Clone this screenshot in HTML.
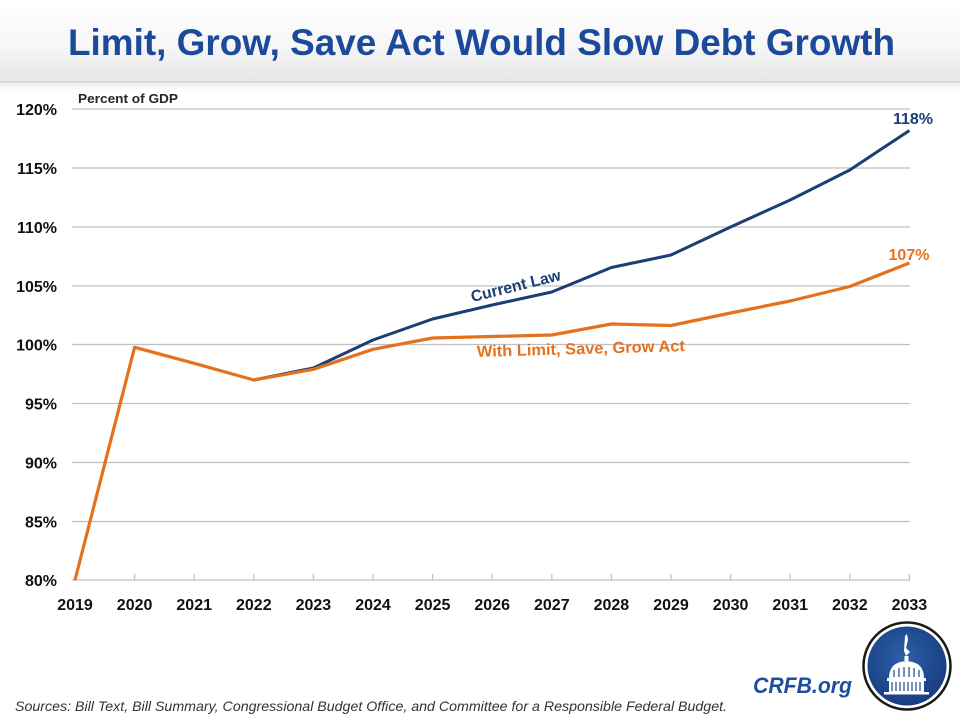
<!DOCTYPE html>
<html><head><meta charset="utf-8"><style>
html,body{margin:0;padding:0;background:#fff;}
svg{display:block;}
text{font-family:"Liberation Sans",Arial,sans-serif;}
</style></head><body>
<svg width="960" height="720" viewBox="0 0 960 720" xmlns="http://www.w3.org/2000/svg">
<defs>
<linearGradient id="hdr" x1="0" y1="0" x2="0" y2="1">
<stop offset="0" stop-color="#ffffff"/>
<stop offset="0.55" stop-color="#f7f7f7"/>
<stop offset="1" stop-color="#e7e7e7"/>
</linearGradient>
<linearGradient id="shd" x1="0" y1="0" x2="0" y2="1">
<stop offset="0" stop-color="#ececec"/>
<stop offset="1" stop-color="#ffffff"/>
</linearGradient>
<radialGradient id="disk" cx="0.45" cy="0.4" r="0.7">
<stop offset="0" stop-color="#2f5ea8"/>
<stop offset="1" stop-color="#143a7a"/>
</radialGradient>
</defs>
<rect x="0" y="0" width="960" height="81" fill="url(#hdr)"/>
<rect x="0" y="81" width="960" height="1.5" fill="#d2d2d2"/>
<rect x="0" y="82.5" width="960" height="8" fill="url(#shd)"/>
<text x="481.5" y="55" text-anchor="middle" font-size="37" font-weight="bold" fill="#1c4a9a" textLength="827" lengthAdjust="spacingAndGlyphs">Limit, Grow, Save Act Would Slow Debt Growth</text>

<text x="78" y="103" font-size="12.5" font-weight="bold" fill="#262626" textLength="100" lengthAdjust="spacingAndGlyphs">Percent of GDP</text>

<g stroke="#c0c0c0" stroke-width="1.2">
<line x1="72" y1="109" x2="910" y2="109"/>
<line x1="72" y1="168" x2="910" y2="168"/>
<line x1="72" y1="227" x2="910" y2="227"/>
<line x1="72" y1="286" x2="910" y2="286"/>
<line x1="72" y1="344.5" x2="910" y2="344.5"/>
<line x1="72" y1="403.5" x2="910" y2="403.5"/>
<line x1="72" y1="462.5" x2="910" y2="462.5"/>
<line x1="72" y1="521.5" x2="910" y2="521.5"/>
<line x1="72" y1="580" x2="910" y2="580"/>
<line x1="134.6" y1="574" x2="134.6" y2="580"/>
<line x1="194.2" y1="574" x2="194.2" y2="580"/>
<line x1="253.8" y1="574" x2="253.8" y2="580"/>
<line x1="313.4" y1="574" x2="313.4" y2="580"/>
<line x1="373" y1="574" x2="373" y2="580"/>
<line x1="432.6" y1="574" x2="432.6" y2="580"/>
<line x1="492.2" y1="574" x2="492.2" y2="580"/>
<line x1="551.8" y1="574" x2="551.8" y2="580"/>
<line x1="611.4" y1="574" x2="611.4" y2="580"/>
<line x1="671" y1="574" x2="671" y2="580"/>
<line x1="730.6" y1="574" x2="730.6" y2="580"/>
<line x1="790.2" y1="574" x2="790.2" y2="580"/>
<line x1="849.8" y1="574" x2="849.8" y2="580"/>
<line x1="909.4" y1="574" x2="909.4" y2="580"/>
</g>

<g font-size="16" font-weight="bold" fill="#111" text-anchor="end">
<text x="57" y="115">120%</text>
<text x="57" y="174">115%</text>
<text x="57" y="233">110%</text>
<text x="57" y="292">105%</text>
<text x="57" y="350.5">100%</text>
<text x="57" y="409.5">95%</text>
<text x="57" y="468.5">90%</text>
<text x="57" y="527.5">85%</text>
<text x="57" y="586">80%</text>
</g>
<g font-size="16" font-weight="bold" fill="#111" text-anchor="middle">
<text x="75" y="610">2019</text>
<text x="134.6" y="610">2020</text>
<text x="194.2" y="610">2021</text>
<text x="253.8" y="610">2022</text>
<text x="313.4" y="610">2023</text>
<text x="373" y="610">2024</text>
<text x="432.6" y="610">2025</text>
<text x="492.2" y="610">2026</text>
<text x="551.8" y="610">2027</text>
<text x="611.4" y="610">2028</text>
<text x="671" y="610">2029</text>
<text x="730.6" y="610">2030</text>
<text x="790.2" y="610">2031</text>
<text x="849.8" y="610">2032</text>
<text x="909.4" y="610">2033</text>
</g>

<polyline fill="none" stroke="#1b3e74" stroke-width="3" stroke-linejoin="round" points="253.8,380 313.4,368 373,340 432.6,319 492.2,305 551.8,292 611.4,267.5 671,255 730.6,227 790.2,200 849.8,170 909.4,130.5"/>
<polyline fill="none" stroke="#e5711e" stroke-width="3.2" stroke-linejoin="round" points="75,580 134.6,347.3 194.2,363.3 253.8,380 313.4,369.3 373,349.3 432.6,338 492.2,336.5 551.8,335 611.4,324 671,325.5 730.6,313 790.2,301 849.8,286.5 909.4,263"/>

<text x="913" y="124" text-anchor="middle" font-size="16" font-weight="bold" fill="#1b3e74">118%</text>
<text x="909" y="260" text-anchor="middle" font-size="16" font-weight="bold" fill="#e5711e">107%</text>

<text transform="translate(517,291) rotate(-14)" text-anchor="middle" font-size="16" font-weight="bold" fill="#1b3e74" textLength="92" lengthAdjust="spacingAndGlyphs">Current Law</text>
<text transform="translate(581,354) rotate(-1.6)" text-anchor="middle" font-size="16" font-weight="bold" fill="#e5711e" textLength="208" lengthAdjust="spacingAndGlyphs">With Limit, Save, Grow Act</text>

<text x="15" y="711" font-size="14" font-style="italic" fill="#333" textLength="712" lengthAdjust="spacingAndGlyphs">Sources: Bill Text, Bill Summary, Congressional  Budget Office, and Committee for a Responsible Federal Budget.</text>
<text x="753" y="693" font-size="22" font-weight="bold" font-style="italic" fill="#1f4e9e" textLength="99" lengthAdjust="spacingAndGlyphs">CRFB.org</text>

<g>
<circle cx="907" cy="666" r="43.5" fill="#fff" stroke="#1a1a1a" stroke-width="2.5"/>
<circle cx="907" cy="666" r="39.5" fill="url(#disk)"/>
<path d="M905 636 L907 634 L908 640 L906 648 L910 652 L906 656 L904 651 Z" fill="#fff"/>
<rect x="904.5" y="656" width="4" height="5" fill="#fff"/>
<path d="M889 678 Q889 662 906.5 661 Q924 662 924 678 Z" fill="#fff"/>
<rect x="887" y="678" width="39" height="3" fill="#fff"/>
<rect x="889" y="681" width="35" height="11" fill="#fff"/>
<g stroke="#1d4588" stroke-width="1.2">
<line x1="892" y1="682" x2="892" y2="691"/>
<line x1="896" y1="682" x2="896" y2="691"/>
<line x1="900" y1="682" x2="900" y2="691"/>
<line x1="904" y1="682" x2="904" y2="691"/>
<line x1="908" y1="682" x2="908" y2="691"/>
<line x1="912" y1="682" x2="912" y2="691"/>
<line x1="916" y1="682" x2="916" y2="691"/>
<line x1="920" y1="682" x2="920" y2="691"/>
<line x1="894" y1="670" x2="894" y2="677"/>
<line x1="899" y1="668" x2="899" y2="677"/>
<line x1="904" y1="667" x2="904" y2="677"/>
<line x1="909" y1="667" x2="909" y2="677"/>
<line x1="914" y1="668" x2="914" y2="677"/>
<line x1="919" y1="670" x2="919" y2="677"/>
</g>
<rect x="884" y="692" width="45" height="2.5" fill="#fff"/>
</g>
</svg>
</body></html>
